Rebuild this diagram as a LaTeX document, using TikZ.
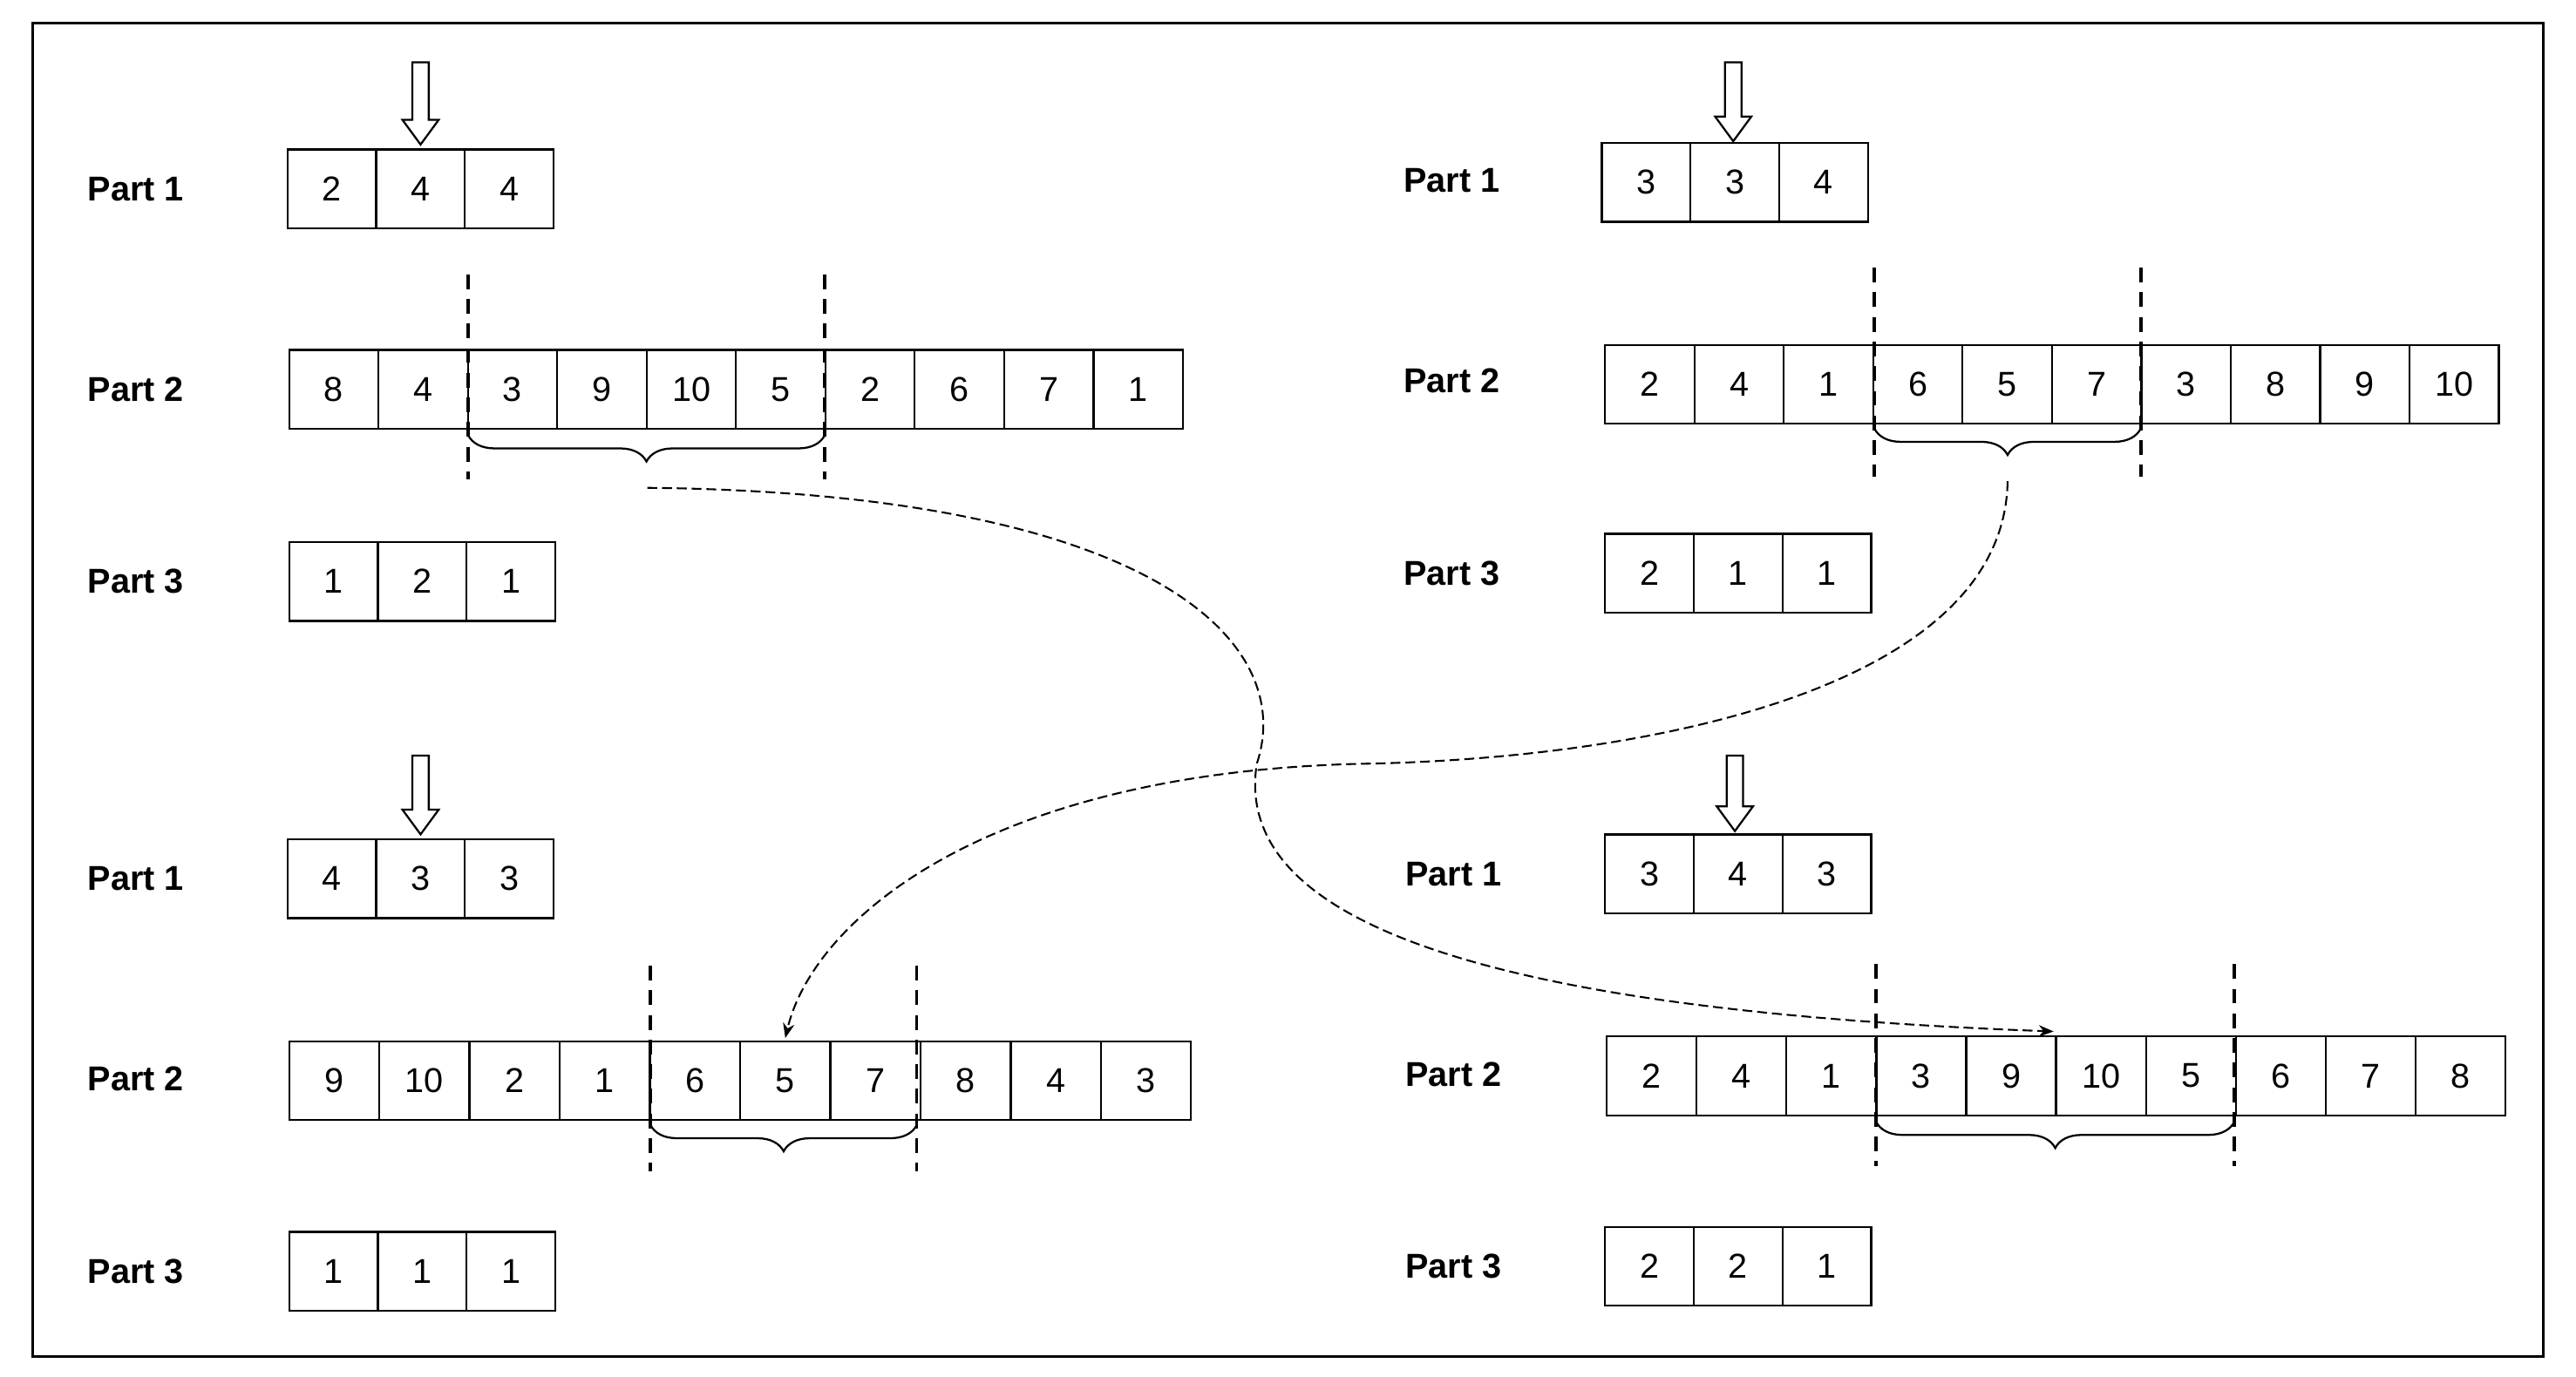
\documentclass[tikz,border=0pt]{standalone}
\usepackage{fontspec}
\setmainfont{Liberation Sans}
\usetikzlibrary{decorations.pathreplacing,arrows.meta}
\begin{document}
\begin{tikzpicture}[x=1pt,y=-1pt,
  cell/.style={draw,line width=1.2pt,minimum height=48pt,inner sep=0pt,font=\fontsize{21}{21}\selectfont},
  lab/.style={anchor=west,font=\fontsize{21}{21}\selectfont\bfseries},
  cut/.style={dashed,line width=2pt,dash pattern=on 9pt off 6pt},
  br/.style={decorate,decoration={brace,mirror,amplitude=16pt,raise=0pt},line width=1.2pt},
  link/.style={dashed,line width=1.1pt,dash pattern=on 6pt off 3pt,-{Stealth[length=9pt,width=7pt]}},
  hollow/.style={draw,line width=1.2pt,fill=white}]
\useasboundingbox (0,0) rectangle (1568,838);
\draw[line width=1.5pt] (20,14) rectangle (1548,826);
\newcommand{\cellrow}[5]{% name, x, y, w, list
  \foreach \v [count=\i] in {#5}
    \node[cell,minimum width=#4 pt] (#1-\i) at ({#2+(\i-0.5)*#4},#3) {\v};}
\newcommand{\harrow}[3]{% x, ytop, ybottom
  \draw[hollow] ({#1-5},#2) -- ({#1+5},#2) -- ({#1+5},{#3-15}) -- ({#1+11},{#3-15}) -- (#1,#3) -- ({#1-11},{#3-15}) -- ({#1-5},{#3-15}) -- cycle;}
% top-left
\node[lab] (tl1) at (50,115) {Part 1};
\node[lab] (tl2) at (50,237) {Part 2};
\node[lab] (tl3) at (50,354) {Part 3};
\cellrow{a1}{175}{115}{54}{2,4,4}
\cellrow{a2}{176}{237}{54.4}{8,4,3,9,10,5,2,6,7,1}
\cellrow{a3}{176}{354}{54}{1,2,1}
\harrow{256}{38}{88}
\draw[cut] (285,167) -- (285,292);
\draw[cut] (502,167) -- (502,292);
\draw[br] (285,265) -- (502,265);
\coordinate (ta) at (394,297);
% top-right
\node[lab] (tr1) at (851,110) {Part 1};
\node[lab] (tr2) at (851,232) {Part 2};
\node[lab] (tr3) at (851,349) {Part 3};
\cellrow{b1}{975}{111}{54}{3,3,4}
\cellrow{b2}{977}{234}{54.4}{2,4,1,6,5,7,3,8,9,10}
\cellrow{b3}{977}{349}{54}{2,1,1}
\harrow{1055}{38}{86}
\draw[cut] (1141,163) -- (1141,290);
\draw[cut] (1303,163) -- (1303,290);
\draw[br] (1141,261) -- (1303,261);
\coordinate (tb) at (1222,293);
% bottom-left
\node[lab] (bl1) at (50,535) {Part 1};
\node[lab] (bl2) at (50,657) {Part 2};
\node[lab] (bl3) at (50,774) {Part 3};
\cellrow{c1}{175}{535}{54}{4,3,3}
\cellrow{c2}{176}{658}{54.9}{9,10,2,1,6,5,7,8,4,3}
\cellrow{c3}{176}{774}{54}{1,1,1}
\harrow{256}{460}{508}
\draw[cut] (396,588) -- (396,713);
\draw[cut] (558,588) -- (558,713);
\draw[br] (396,685) -- (558,685);
% bottom-right
\node[lab] (br1) at (852,532) {Part 1};
\node[lab] (br2) at (852,654) {Part 2};
\node[lab] (br3) at (852,771) {Part 3};
\cellrow{d1}{977}{532}{54}{3,4,3}
\cellrow{d2}{978}{655}{54.7}{2,4,1,3,9,10,5,6,7,8}
\cellrow{d3}{977}{771}{54}{2,2,1}
\harrow{1056}{460}{506}
\draw[cut] (1142,587) -- (1142,710);
\draw[cut] (1360,587) -- (1360,710);
\draw[br] (1142,683) -- (1360,683);
\coordinate (ea) at (1250,628);
\coordinate (eb) at (478,632);
% links
\draw[link] (ta) .. controls (700,300) and (790,390) .. (765,465) .. controls (750,560) and (900,615) .. (ea);
\draw[link] (tb) .. controls (1220,420) and (1000,462) .. (830,465) .. controls (600,470) and (495,560) .. (eb);
\end{tikzpicture}
\end{document}
